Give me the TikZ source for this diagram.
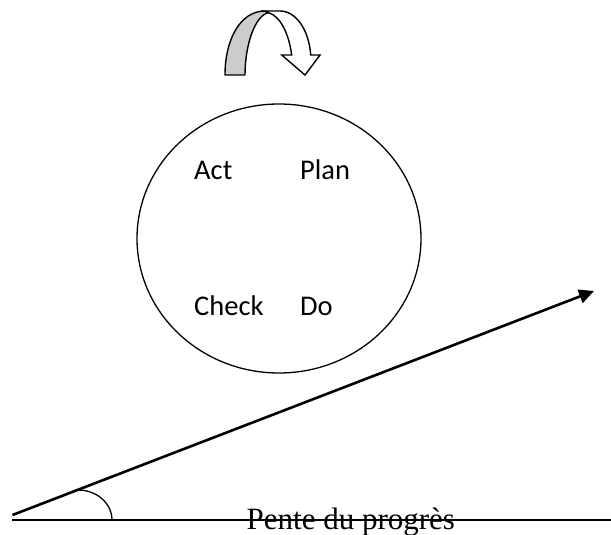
\documentclass[tikz,border=0pt]{standalone}
\usepackage{fontspec}
\setmainfont{Liberation Serif}
\newfontfamily\calibri{Carlito}
\usetikzlibrary{arrows.meta,shapes.geometric}
\begin{document}
\begin{tikzpicture}[x=1pt,y=-1pt,
  lbl/.style={font=\calibri\fontsize{28.5}{34}\selectfont, anchor=base west, inner sep=0pt},
  axisline/.style={line width=2.2pt},
  thinline/.style={line width=1.3pt},
  ribbon/.style={line width=1.4pt, line join=round}]
\useasboundingbox (0,0) rectangle (611,535);
% curved arrow (back part, grey)
\filldraw[ribbon, fill=gray!40] (225,75) .. controls (225,40) and (240,11) .. (265,11)
  -- (269,12.5) .. controls (255,15) and (245,45) .. (245,75) -- cycle;
% curved arrow (front part, white with head)
\filldraw[ribbon, fill=white, line join=miter] (264,11) -- (280,11)
  .. controls (296,11) and (309,30) .. (310.7,55) -- (320,55) -- (305,75) -- (281.7,55) -- (291.7,55)
  .. controls (289,35) and (281,16) .. (268,12.5) -- cycle;
% cycle ellipse
\node (cyc) [draw, thinline, ellipse, minimum width=284pt, minimum height=269pt, inner sep=0pt] at (279,238.5) {};
\node (act) [lbl] at (194,179.5) {Act};
\node (plan) [lbl] at (300,179.5) {Plan};
\node (check) [lbl] at (194,315) {Check};
\node (do) [lbl] at (300,315) {Do};
% axes
\coordinate (s0) at (12.5,515);
\coordinate (tip) at (594,291);
\coordinate (h0) at (12,520);
\coordinate (h1) at (611,520);
\draw[axisline] (h0) -- (h1);
\draw[line width=2.6pt, -{Triangle[length=15pt,width=14pt]}] (s0) -- (tip);
% angle arc
\coordinate (a0) at (78,490);
\coordinate (a1) at (112,520);
\draw[thinline] (a0) .. controls (96.8,490) and (112,503.4) .. (a1);
\node (pente) [font=\fontsize{31}{36}\selectfont, anchor=base west, inner sep=0pt] at (246.5,529) {Pente du progrès};
\end{tikzpicture}
\end{document}
